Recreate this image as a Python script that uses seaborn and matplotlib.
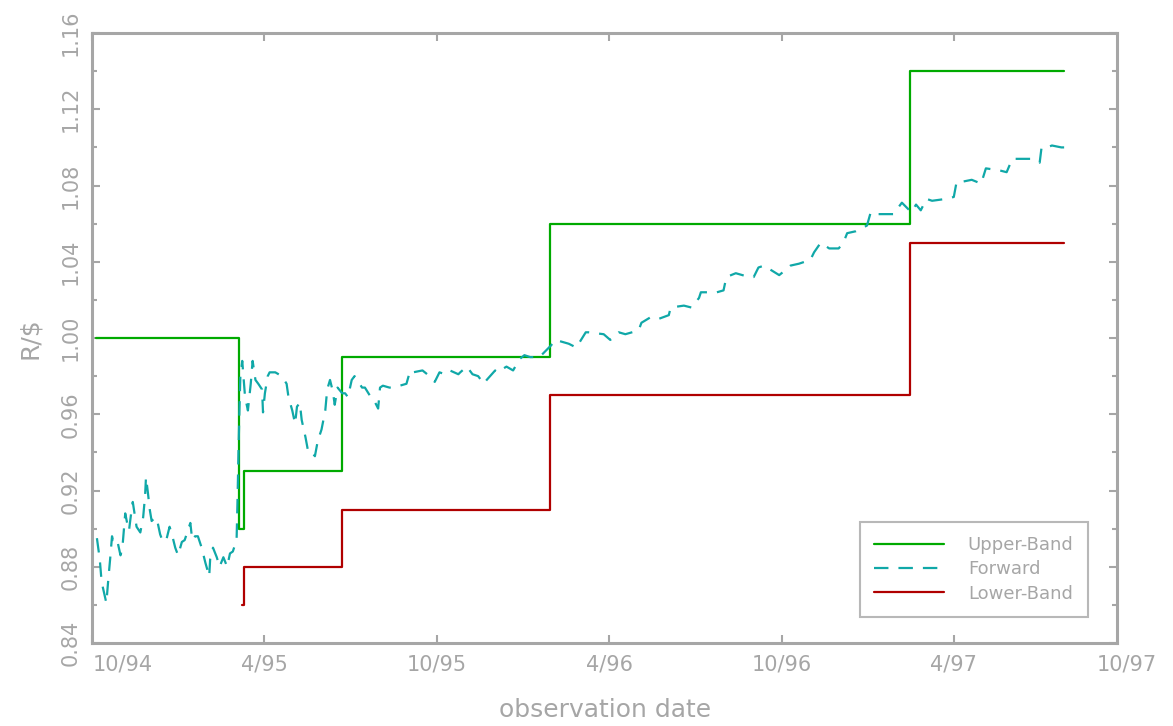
import matplotlib
matplotlib.use('Agg')
import matplotlib.pyplot as plt
from matplotlib.ticker import MultipleLocator
import pandas as pd
import seaborn as sns

# forward rate
fwd_dates = [
    '1994-10-06', '1994-10-09', '1994-10-11', '1994-10-16', '1994-10-18', '1994-10-20', '1994-10-22', '1994-10-23', '1994-10-27', '1994-10-31',
    '1994-11-02', '1994-11-05', '1994-11-07', '1994-11-09', '1994-11-12', '1994-11-13', '1994-11-17', '1994-11-21', '1994-11-24', '1994-11-26',
    '1994-11-27', '1994-11-29', '1994-12-01', '1994-12-03', '1994-12-07', '1994-12-09', '1994-12-12', '1994-12-15', '1994-12-19', '1994-12-22',
    '1994-12-25', '1994-12-28', '1994-12-31', '1995-01-04', '1995-01-07', '1995-01-13', '1995-01-15', '1995-01-18', '1995-01-21', '1995-01-25',
    '1995-01-29', '1995-02-02', '1995-02-03', '1995-02-06', '1995-02-10', '1995-02-13', '1995-02-17', '1995-02-21', '1995-02-24', '1995-02-27',
    '1995-03-03', '1995-03-04', '1995-03-05', '1995-03-06', '1995-03-07', '1995-03-09', '1995-03-12', '1995-03-15', '1995-03-18', '1995-03-20',
    '1995-03-23', '1995-03-26', '1995-03-30', '1995-03-31', '1995-04-02', '1995-04-05', '1995-04-07', '1995-04-13', '1995-04-20', '1995-04-25',
    '1995-04-27', '1995-05-01', '1995-05-04', '1995-05-06', '1995-05-09', '1995-05-11', '1995-05-15', '1995-05-18', '1995-05-22', '1995-05-25',
    '1995-05-28', '1995-06-01', '1995-06-05', '1995-06-07', '1995-06-10', '1995-06-13', '1995-06-15', '1995-06-18', '1995-06-23', '1995-06-26',
    '1995-06-29', '1995-07-03', '1995-07-06', '1995-07-10', '1995-07-14', '1995-07-17', '1995-07-22', '1995-07-25', '1995-07-31', '1995-08-02',
    '1995-08-05', '1995-08-12', '1995-08-16', '1995-08-23', '1995-08-30', '1995-09-03', '1995-09-06', '1995-09-16', '1995-09-21', '1995-09-29',
    '1995-10-04', '1995-10-10', '1995-10-15', '1995-10-24', '1995-10-26', '1995-11-02', '1995-11-08', '1995-11-14', '1995-11-20', '1995-11-23',
    '1995-12-02', '1995-12-04', '1995-12-14', '1995-12-21', '1995-12-28', '1996-01-02', '1996-01-08', '1996-01-18', '1996-01-24', '1996-01-30',
    '1996-02-04', '1996-02-18', '1996-02-26', '1996-03-07', '1996-03-10', '1996-03-26', '1996-04-02', '1996-04-11', '1996-04-18', '1996-05-02',
    '1996-05-05', '1996-05-15', '1996-05-23', '1996-06-03', '1996-06-05', '1996-06-19', '1996-06-27', '1996-07-05', '1996-07-07', '1996-07-24',
    '1996-07-31', '1996-08-03', '1996-08-13', '1996-08-27', '1996-09-01', '1996-09-06', '1996-09-12', '1996-09-15', '1996-09-28', '1996-10-03',
    '1996-10-10', '1996-10-19', '1996-10-31', '1996-11-04', '1996-11-11', '1996-11-20', '1996-11-30', '1996-12-05', '1996-12-09', '1996-12-18',
    '1996-12-30', '1997-01-03', '1997-01-08', '1997-01-19', '1997-01-27', '1997-02-02', '1997-02-05', '1997-02-15', '1997-02-20', '1997-02-25',
    '1997-03-03', '1997-03-09', '1997-03-24', '1997-04-01', '1997-04-04', '1997-04-10', '1997-04-20', '1997-04-30', '1997-05-05', '1997-05-19',
    '1997-05-27', '1997-06-02', '1997-06-07', '1997-06-22', '1997-07-01', '1997-07-03', '1997-07-09', '1997-07-14', '1997-07-24', '1997-07-27',
]
fwd_values = [
    0.895, 0.884, 0.872, 0.861, 0.873, 0.884, 0.896, 0.894, 0.895, 0.886,
    0.890, 0.908, 0.903, 0.899, 0.911, 0.914, 0.901, 0.898, 0.906, 0.917,
    0.927, 0.919, 0.910, 0.904, 0.906, 0.904, 0.897, 0.893, 0.895, 0.901,
    0.896, 0.890, 0.886, 0.893, 0.894, 0.903, 0.894, 0.896, 0.896, 0.890,
    0.882, 0.875, 0.884, 0.890, 0.885, 0.880, 0.885, 0.880, 0.887, 0.888,
    0.894, 0.915, 0.940, 0.962, 0.980, 0.988, 0.969, 0.962, 0.976, 0.988,
    0.978, 0.976, 0.973, 0.961, 0.971, 0.980, 0.982, 0.982, 0.980, 0.976,
    0.969, 0.962, 0.955, 0.964, 0.966, 0.957, 0.948, 0.940, 0.940, 0.938,
    0.946, 0.952, 0.962, 0.973, 0.978, 0.972, 0.965, 0.974, 0.971, 0.971,
    0.969, 0.978, 0.980, 0.977, 0.974, 0.974, 0.970, 0.969, 0.963, 0.974,
    0.975, 0.974, 0.974, 0.975, 0.976, 0.983, 0.982, 0.983, 0.981, 0.977,
    0.982, 0.981, 0.983, 0.981, 0.982, 0.985, 0.981, 0.980, 0.976, 0.978,
    0.983, 0.982, 0.985, 0.983, 0.989, 0.991, 0.990, 0.990, 0.993, 0.996,
    0.999, 0.997, 0.995, 1.003, 1.003, 1.002, 0.999, 1.003, 1.002, 1.004,
    1.008, 1.011, 1.010, 1.012, 1.016, 1.017, 1.016, 1.021, 1.024, 1.024,
    1.025, 1.032, 1.034, 1.032, 1.032, 1.037, 1.038, 1.037, 1.033, 1.035,
    1.038, 1.039, 1.041, 1.045, 1.050, 1.047, 1.047, 1.050, 1.055, 1.056,
    1.059, 1.066, 1.065, 1.065, 1.065, 1.069, 1.071, 1.066, 1.070, 1.067,
    1.073, 1.072, 1.073, 1.074, 1.082, 1.082, 1.083, 1.081, 1.089, 1.088,
    1.087, 1.094, 1.094, 1.094, 1.092, 1.100, 1.100, 1.101, 1.100, 1.100,
]

# band levels (each value holds from its date on)
upper_dates = ['1994-10-05', '1995-03-06', '1995-03-11', '1995-06-23', '1996-01-29', '1997-02-14', '1997-07-27']
upper_values = [1.00, 0.90, 0.93, 0.99, 1.06, 1.14, 1.14]
lower_dates = ['1995-03-09', '1995-03-11', '1995-06-23', '1996-01-29', '1997-02-14', '1997-07-27']
lower_values = [0.86, 0.88, 0.91, 0.97, 1.05, 1.05]

tick_dates = ['1994-10-01', '1995-04-01', '1995-10-01', '1996-04-01', '1996-10-01', '1997-04-01']
tick_labels = ['10/94', '4/95', '10/95', '4/96', '10/96', '4/97']

GRAY = '#a6a6a6'

sns.set_theme(style='white')
plt.rcParams['font.family'] = ['DejaVu Sans']

fig = plt.figure(figsize=(11.73, 7.26), dpi=100)
ax = fig.add_axes([0.0786, 0.1143, 0.8737, 0.8402])

sns.lineplot(x=pd.to_datetime(upper_dates), y=upper_values, drawstyle='steps-post',
             color='#00aa00', linewidth=1.6, label='Upper-Band', sort=False, ax=ax)
sns.lineplot(x=pd.to_datetime(fwd_dates), y=fwd_values, color='#10a8a8', linewidth=1.6,
             linestyle=(0, (6.5, 4.5)), label='Forward', sort=False, ax=ax)
sns.lineplot(x=pd.to_datetime(lower_dates), y=lower_values, drawstyle='steps-post',
             color='#b00000', linewidth=1.6, label='Lower-Band', sort=False, ax=ax)

ax.set_xlim(pd.Timestamp('1994-10-01'), pd.Timestamp('1997-09-21'))
ax.set_ylim(0.84, 1.16)

ax.set_xticks(pd.to_datetime(tick_dates))
ax.set_xticklabels(tick_labels)
ax.xaxis.set_minor_locator(plt.NullLocator())
ax.yaxis.set_major_locator(MultipleLocator(0.04))
ax.yaxis.set_minor_locator(MultipleLocator(0.02))
ax.yaxis.set_major_formatter(plt.FormatStrFormatter('%.2f'))

for s in ax.spines.values():
    s.set_visible(True)
    s.set_color(GRAY)
    s.set_linewidth(2.2)

ax.tick_params(axis='both', which='both', direction='in', color=GRAY, width=1.5,
               labelcolor=GRAY, top=True, right=True, bottom=True, left=True)
ax.tick_params(axis='both', which='major', length=6, labelsize=15, pad=8)
ax.tick_params(axis='y', which='minor', length=3.5)
for lab in ax.get_yticklabels():
    lab.set_rotation(90)
    lab.set_va('center')
ax.get_xticklabels()[0].set_ha('left')

# last date label sits just past the frame
ax.annotate('10/97', xy=(pd.Timestamp('1997-10-01'), 0), xycoords=('data', 'axes fraction'),
            xytext=(0, -8), textcoords='offset points', ha='center', va='top',
            fontsize=15, color=GRAY, annotation_clip=False)

ax.set_xlabel('observation date', fontsize=18, color=GRAY, labelpad=17)
ax.set_ylabel('R/$', fontsize=18, color=GRAY, labelpad=14)

leg = ax.legend(loc='lower right', bbox_to_anchor=(0.9717, 0.0426), borderaxespad=0,
                fontsize=13, frameon=True, fancybox=False, handlelength=3.9,
                handletextpad=1.3, labelspacing=0.35, borderpad=0.8)
leg.get_frame().set_edgecolor(GRAY)
leg.get_frame().set_linewidth(1.5)
for t in leg.get_texts():
    t.set_color(GRAY)

fig.savefig('out.png', dpi=100)
